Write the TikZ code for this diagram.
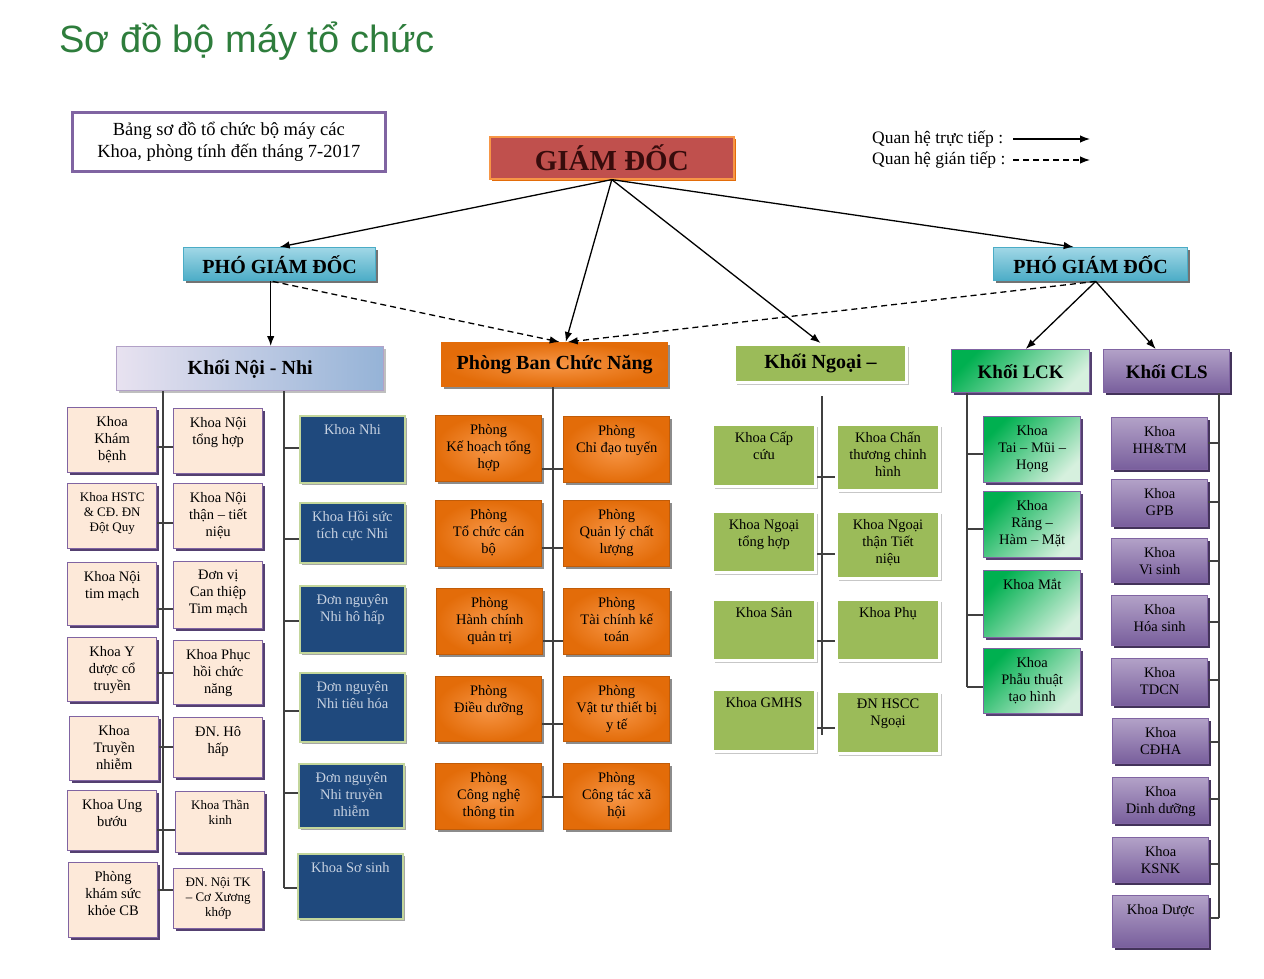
\documentclass[tikz,border=0pt]{standalone}
\usepackage{fontspec}
\setmainfont{Liberation Serif}
\newfontfamily\titlefont{Liberation Sans}
\usetikzlibrary{arrows.meta, shadows, calc}
\definecolor{titlegreen}{RGB}{46,125,60}
\definecolor{purpB}{RGB}{128,100,162}
\definecolor{purpD}{RGB}{84,64,112}
\definecolor{peachfill}{RGB}{253,233,217}
\definecolor{navy}{RGB}{31,73,125}
\definecolor{nhiline}{RGB}{195,214,155}
\definecolor{nhitext}{RGB}{200,210,225}
\definecolor{orgD}{RGB}{227,108,9}
\definecolor{orgL}{RGB}{247,150,70}
\definecolor{ngreen}{RGB}{155,187,89}
\definecolor{lckD}{RGB}{0,176,80}
\definecolor{lckL}{RGB}{214,240,222}
\definecolor{clsL}{RGB}{178,161,199}
\definecolor{clsM}{RGB}{120,94,156}
\definecolor{gdred}{RGB}{192,80,77}
\definecolor{cyanD}{RGB}{75,172,198}
\definecolor{cyanL}{RGB}{160,215,230}
\definecolor{lav}{RGB}{232,226,240}
\definecolor{steel}{RGB}{149,179,215}
\tikzset{
  box/.style={rectangle, anchor=north west, inner sep=0pt, line width=1.4pt},
  sh/.style={drop shadow={shadow xshift=2.5pt, shadow yshift=-2.5pt, fill=#1, opacity=1}},
  txt/.style={anchor=north, align=center, inner sep=2pt, yshift=-7pt, font=\fontsize{14.5}{17}\selectfont},
  txts/.style={txt, font=\fontsize{13}{15}\selectfont},
  tl/.style={label={[txt]north:{#1}}},
  tls/.style={label={[txts]north:{#1}}},
  tln/.style={label={[txt,text=nhitext]north:{#1}}},
  hdr/.style={box, font=\bfseries\fontsize{20}{24}\selectfont},
  peach/.style={box, fill=peachfill, draw=purpB, minimum width=89pt, sh=purpD},
  nhi/.style={box, fill=navy, draw=nhiline, line width=1.8pt, minimum width=105pt, sh=black!35},
  phong/.style={box, inner color=orgL, outer color=orgD, draw=orgD!85!black, minimum width=106pt, sh=black!45},
  ngoai/.style={box, fill=ngreen, draw=white, line width=3pt, minimum width=103pt, sh=black!22},
  lck/.style={box, top color=lckD, bottom color=lckL, shading angle=45, draw=purpB, minimum width=97pt, sh=purpD},
  cls/.style={box, top color=clsL, bottom color=clsM, draw=purpB, minimum width=96pt, sh=purpD!80!black},
  link/.style={line width=1.3pt, draw=black!75},
  arr/.style={->, line width=1.3pt},
  dashline/.style={dash pattern=on 6pt off 4pt}
}
\begin{document}
\begin{tikzpicture}[x=1pt, y=-1pt, >={Latex[length=10pt,width=7.5pt]}]
\useasboundingbox (0,0) rectangle (1264,978);
% title and notes
\node[anchor=base west, inner sep=0pt, font=\titlefont\fontsize{38}{42}\selectfont, text=titlegreen] (title) at (59,52) {Sơ đồ bộ máy tổ chức};
\node[box, draw=purpB, line width=2.6pt, minimum width=313pt, minimum height=59pt, align=center, font=\fontsize{18.5}{22}\selectfont] (info) at (71,111) {Bảng sơ đồ tổ chức bộ máy các\\Khoa, phòng tính đến tháng 7-2017};
\node[anchor=west, inner sep=0pt, font=\fontsize{17.5}{20}\selectfont] (leg1) at (872,139) {Quan hệ trực tiếp :};
\node[anchor=west, inner sep=0pt, font=\fontsize{17.5}{20}\selectfont] (leg2) at (872,160) {Quan hệ gián tiếp :};
\coordinate (l1a) at (1013,139); \coordinate (l1b) at (1090,139);
\coordinate (l2a) at (1013,160); \coordinate (l2b) at (1090,160);
\draw[arr] (l1a) -- (l1b);
\draw[arr, dashline] (l2a) -- (l2b);

% leaders
\node[box, fill=gdred, draw=orgL, line width=1.6pt, minimum width=244pt, minimum height=42pt, sh=orgD, text={rgb,255:red,55;green,12;blue,12}, font=\bfseries\fontsize{29}{31}\selectfont] (gd) at (489,136) {GIÁM ĐỐC};
\node[hdr, top color=cyanL, bottom color=cyanD, draw=cyanD, minimum width=192pt, minimum height=33pt, sh=black!55, font=\bfseries\fontsize{20}{22}\selectfont] (pgd1) at (183,247) {PHÓ GIÁM ĐỐC};
\node[hdr, top color=cyanL, bottom color=cyanD, draw=cyanD, minimum width=194pt, minimum height=33pt, sh=black!55, font=\bfseries\fontsize{20}{22}\selectfont] (pgd2) at (993,247) {PHÓ GIÁM ĐỐC};

% blocks
\node[hdr, left color=lav, right color=steel, draw=clsL, minimum width=267pt, minimum height=44pt, sh=black!25] (knn) at (116,346) {Khối Nội - Nhi};
\node[hdr, inner color=orgL, outer color=orgD, draw=orgD, minimum width=226pt, minimum height=44pt, sh=black!45] (pbcn) at (441,342) {Phòng Ban Chức Năng};
\node[hdr, fill=ngreen, draw=white, line width=3pt, minimum width=172pt, minimum height=38pt, sh=black!22] (kng) at (733,343) {Khối Ngoại –};
\node[hdr, top color=lckD, bottom color=lckL, shading angle=45, draw=purpB, minimum width=138pt, minimum height=43pt, sh=purpD, font=\bfseries\fontsize{19}{22}\selectfont] (klck) at (951,349) {Khối LCK};
\node[hdr, top color=clsL, bottom color=clsM, draw=purpB, minimum width=126pt, minimum height=43pt, sh=purpD!80!black, font=\bfseries\fontsize{19}{22}\selectfont] (kcls) at (1103,349) {Khối CLS};

\draw[arr] (gd.south) -- (pgd1.north);
\draw[arr] (gd.south) -- ([xshift=-17pt]pgd2.north);
\draw[arr] (gd.south) -- ([xshift=11pt]pbcn.north);
\draw[arr] (gd.south) -- (kng.north);
\draw[arr] ([xshift=-9pt]pgd1.south) -- ([xshift=-9pt]pgd1.south |- knn.north);
\draw[arr, dashline] ([xshift=-7pt]pgd1.south) -- ([xshift=5pt]pbcn.north);
\draw[arr, dashline] ([xshift=5pt]pgd2.south) -- ([xshift=13pt]pbcn.north);
\draw[arr] ([xshift=5pt]pgd2.south) -- ([xshift=5pt]klck.north);
\draw[arr] ([xshift=5pt]pgd2.south) -- ([xshift=-11pt]kcls.north);

% Khoi Noi - Nhi
\node[peach, tl={Khoa\\Khám\\bệnh}, minimum height=65pt] (kkb) at (67,407) {};
\node[peach, tl={Khoa Nội\\tổng hợp}, minimum height=65pt] (knth) at (173,408) {};
\node[peach, tls={Khoa HSTC\\\& CĐ. ĐN\\Đột Quy}, minimum height=65pt] (khstc) at (67,483) {};
\node[peach, tl={Khoa Nội\\thận – tiết\\niệu}, minimum height=65pt] (kntn) at (173,483) {};
\node[peach, tl={Khoa Nội\\tim mạch}, minimum height=63pt] (kntm) at (67,562) {};
\node[peach, tl={Đơn vị\\Can thiệp\\Tim mạch}, minimum height=67pt] (dvct) at (173,561) {};
\node[peach, tl={Khoa Y\\dược cổ\\truyền}, minimum height=64pt] (kydct) at (67,637) {};
\node[peach, tl={Khoa Phục\\hồi chức\\năng}, minimum height=64pt] (kphcn) at (173,640) {};
\node[peach, tl={Khoa\\Truyền\\nhiễm}, minimum height=64pt] (ktn) at (69,716) {};
\node[peach, tl={ĐN. Hô\\hấp}, minimum height=60pt] (dnhh) at (173,717) {};
\node[peach, tl={Khoa Ung\\bướu}, minimum height=60pt] (kub) at (67,790) {};
\node[peach, tls={Khoa Thần\\kinh}, minimum height=61pt] (ktk) at (175,791) {};
\node[peach, tl={Phòng\\khám sức\\khỏe CB}, minimum height=75pt] (pksk) at (68,862) {};
\node[peach, tls={ĐN. Nội TK\\– Cơ Xương\\khớp}, minimum height=60pt] (dntk) at (173,868) {};
\draw[link] (knn.south -| 163,0) -- (163,890);
\draw[link] (kkb.east |- 0,447) -- (knth.west |- 0,447);
\draw[link] (khstc.east |- 0,523) -- (kntn.west |- 0,523);
\draw[link] (kntm.east |- 0,609) -- (dvct.west |- 0,609);
\draw[link] (kydct.east |- 0,673) -- (kphcn.west |- 0,673);
\draw[link] (ktn.east |- 0,747) -- (dnhh.west |- 0,747);
\draw[link] (kub.east |- 0,830) -- (ktk.west |- 0,830);
\draw[link] (pksk.east |- 0,890) -- (dntk.west |- 0,890);

\node[nhi, tln={Khoa Nhi}, minimum height=67pt] (knhi) at (299,415) {};
\node[nhi, tln={Khoa Hồi sức\\tích cực Nhi}, minimum height=60pt] (khsn) at (299,502) {};
\node[nhi, tln={Đơn nguyên\\Nhi hô hấp}, minimum height=67pt] (dnnhh) at (299,585) {};
\node[nhi, tln={Đơn nguyên\\Nhi tiêu hóa}, minimum height=69pt] (dnnth) at (299,672) {};
\node[nhi, tln={Đơn nguyên\\Nhi truyền\\nhiễm}, minimum height=64pt] (dnntn) at (298,763) {};
\node[nhi, tln={Khoa Sơ sinh}, minimum height=65pt] (kss) at (297,853) {};
\draw[link] (knn.south -| 284,0) -- (284,888);
\draw[link] (284,448) -- (knhi.west |- 0,448);
\draw[link] (284,539) -- (khsn.west |- 0,539);
\draw[link] (284,621) -- (dnnhh.west |- 0,621);
\draw[link] (284,711) -- (dnnth.west |- 0,711);
\draw[link] (284,793) -- (dnntn.west |- 0,793);
\draw[link] (284,888) -- (kss.west |- 0,888);

% Phong Ban Chuc Nang
\node[phong, tl={Phòng\\Kế hoạch tổng\\hợp}, minimum height=66pt] (pkhth) at (435,415) {};
\node[phong, tl={Phòng\\Chỉ đạo tuyến}, minimum height=66pt] (pcdt) at (563,416) {};
\node[phong, tl={Phòng\\Tổ chức cán\\bộ}, minimum height=66pt] (ptccb) at (435,500) {};
\node[phong, tl={Phòng\\Quản lý chất\\lượng}, minimum height=66pt] (pqlcl) at (563,500) {};
\node[phong, tl={Phòng\\Hành chính\\quản trị}, minimum height=66pt] (phcqt) at (436,588) {};
\node[phong, tl={Phòng\\Tài chính kế\\toán}, minimum height=66pt] (ptckt) at (563,588) {};
\node[phong, tl={Phòng\\Điều dưỡng}, minimum height=65pt] (pdd) at (435,676) {};
\node[phong, tl={Phòng\\Vật tư thiết bị\\y tế}, minimum height=65pt] (pvttb) at (563,676) {};
\node[phong, tl={Phòng\\Công nghệ\\thông tin}, minimum height=66pt] (pcntt) at (435,763) {};
\node[phong, tl={Phòng\\Công tác xã\\hội}, minimum height=66pt] (pctxh) at (563,763) {};
\draw[link] (pbcn.south -| 553,0) -- (553,797);
\draw[link] (pkhth.east |- 0,469) -- (pcdt.west |- 0,469);
\draw[link] (ptccb.east |- 0,548) -- (pqlcl.west |- 0,548);
\draw[link] (phcqt.east |- 0,641) -- (ptckt.west |- 0,641);
\draw[link] (pdd.east |- 0,724) -- (pvttb.west |- 0,724);
\draw[link] (pcntt.east |- 0,797) -- (pctxh.west |- 0,797);

% Khoi Ngoai
\node[ngoai, tl={Khoa Cấp\\cứu}, minimum height=62pt] (kcc) at (711,423) {};
\node[ngoai, tl={Khoa Chấn\\thương chỉnh\\hình}, minimum height=66pt] (kctch) at (835,423) {};
\node[ngoai, tl={Khoa Ngoại\\tổng hợp}, minimum height=61pt] (kngth) at (711,510) {};
\node[ngoai, tl={Khoa Ngoại\\thận Tiết\\niệu}, minimum height=67pt] (kngtn) at (835,510) {};
\node[ngoai, tl={Khoa Sản}, minimum height=61pt] (ksan) at (711,598) {};
\node[ngoai, tl={Khoa Phụ}, minimum height=61pt] (kphu) at (835,598) {};
\node[ngoai, tl={Khoa GMHS}, minimum height=62pt] (kgmhs) at (711,688) {};
\node[ngoai, tl={ĐN HSCC\\Ngoại}, minimum height=62pt] (dnhscc) at (835,690) {};
\draw[link] ([yshift=-12pt]kng.south -| 822,0) -- (822,735);
\draw[link] (kcc.east |- 0,477) -- (kctch.west |- 0,477);
\draw[link] (kngth.east |- 0,554) -- (kngtn.west |- 0,554);
\draw[link] (ksan.east |- 0,641) -- (kphu.west |- 0,641);
\draw[link] (kgmhs.east |- 0,728) -- (dnhscc.west |- 0,728);

% Khoi LCK
\node[lck, tl={Khoa\\Tai – Mũi –\\Họng}, minimum height=66pt] (ktmh) at (983,416) {};
\node[lck, tl={Khoa\\Răng –\\Hàm – Mặt}, minimum height=66pt] (krhm) at (983,491) {};
\node[lck, tl={Khoa Mắt}, minimum height=67pt] (kmat) at (983,570) {};
\node[lck, tl={Khoa\\Phẫu thuật\\tạo hình}, minimum height=65pt] (kptth) at (983,648) {};
\draw[link] (klck.south -| 967,0) -- (967,687);
\draw[link] (967,454) -- (ktmh.west |- 0,454);
\draw[link] (967,529) -- (krhm.west |- 0,529);
\draw[link] (967,615) -- (kmat.west |- 0,615);
\draw[link] (967,687) -- (kptth.west |- 0,687);

% Khoi CLS
\node[cls, tl={Khoa\\HH\&TM}, minimum height=52pt] (khhtm) at (1111,417) {};
\node[cls, tl={Khoa\\GPB}, minimum height=47pt] (kgpb) at (1111,479) {};
\node[cls, tl={Khoa\\Vi sinh}, minimum height=44pt] (kvs) at (1111,538) {};
\node[cls, tl={Khoa\\Hóa sinh}, minimum height=50pt] (khs) at (1111,595) {};
\node[cls, tl={Khoa\\TDCN}, minimum height=47pt] (ktdcn) at (1111,658) {};
\node[cls, tl={Khoa\\CĐHA}, minimum height=45pt] (kcdha) at (1112,718) {};
\node[cls, tl={Khoa\\Dinh dưỡng}, minimum height=46pt] (kdd) at (1112,777) {};
\node[cls, tl={Khoa\\KSNK}, minimum height=45pt] (ksnk) at (1112,837) {};
\node[cls, tl={Khoa Dược}, minimum height=52pt] (kduoc) at (1112,895) {};
\draw[link] (kcls.south -| 1219,0) -- (1219,918);
\draw[link] (khhtm.east |- 0,443) -- (1219,443);
\draw[link] (kgpb.east |- 0,502) -- (1219,502);
\draw[link] (kvs.east |- 0,561) -- (1219,561);
\draw[link] (khs.east |- 0,622) -- (1219,622);
\draw[link] (ktdcn.east |- 0,680) -- (1219,680);
\draw[link] (kcdha.east |- 0,742) -- (1219,742);
\draw[link] (kdd.east |- 0,799) -- (1219,799);
\draw[link] (ksnk.east |- 0,864) -- (1219,864);
\draw[link] (kduoc.east |- 0,918) -- (1219,918);
\end{tikzpicture}
\end{document}
